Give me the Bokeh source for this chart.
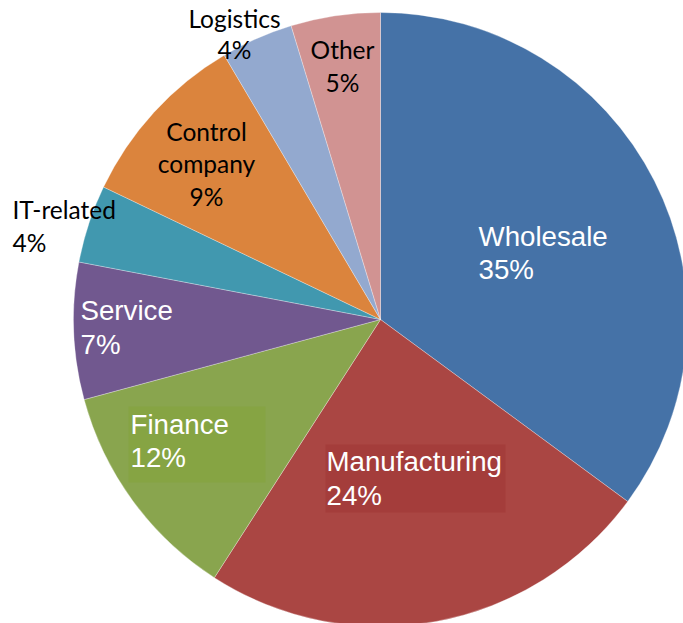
from bokeh.plotting import figure
from bokeh.models import Range1d
from bokeh.embed import file_html
from bokeh.resources import INLINE
from bokeh.core.properties import value

# ---- data ----
categories = ["Wholesale", "Manufacturing", "Finance", "Service",
              "IT-related", "Control\ncompany", "Logistics", "Other"]
shares = [35.1, 24.0, 11.7, 7.2, 4.1, 9.4, 3.8, 4.7]
colors = ["#4572A7", "#AA4643", "#89A54E", "#71588F",
          "#4198AF", "#DB843D", "#93A9CF", "#D19392"]

# ---- layout / style (positions in pixel-like data units) ----
W, H = 683, 623
cx, cy, R = 380, 304, 307

# label layout: x, first line y, line step, align, colour, font, size
label_style = {
    "Wholesale":         (478, 387, 32.5, "left",   "white", "Liberation Sans", "27.7px"),
    "Manufacturing":     (326, 162.5, 34, "left",   "white", "Liberation Sans", "27.7px"),
    "Finance":           (130, 199.5, 33, "left",   "white", "Liberation Sans", "27.7px"),
    "Service":           (80, 313.5, 34, "left",    "white", "Liberation Sans", "27.7px"),
    "IT-related":        (12, 414.5, 33.3, "left",  "black", "Lato", "24.5px"),
    "Control\ncompany":  (206, 492, 32.3, "center", "black", "Lato", "24.5px"),
    "Logistics":         (234, 605.5, 31.3, "center", "black", "Lato", "24.5px"),
    "Other":             (342, 574, 33.4, "center", "black", "Lato", "24.5px"),
}
# label background boxes (left, right, bottom, top, colour)
label_boxes = {
    "Manufacturing": (325, 505, 111, 179, "#A43D3B"),
    "Finance": (128, 265, 141, 217, "#86A443"),
}

p = figure(width=W, height=H, output_backend="svg", toolbar_location=None,
           x_range=Range1d(0, W), y_range=Range1d(0, H),
           min_border=0, outline_line_color=None, background_fill_color="white",
           border_fill_color="white")
p.axis.visible = False
p.grid.visible = False

# wedges, clockwise from 12 o'clock
starts, ends = [], []
acc = 0.0
for s in shares:
    a0 = 90 - acc * 3.6
    a1 = 90 - (acc + s) * 3.6
    starts.append(a0)
    ends.append(a1)
    acc += s

p.wedge(x=[cx] * len(shares), y=[cy] * len(shares), radius=R,
        start_angle=starts, end_angle=ends, start_angle_units="deg",
        end_angle_units="deg", direction="clock",
        fill_color=colors, line_color="white", line_width=0.6, line_alpha=0.5)

for name, (l, r, b, t, c) in label_boxes.items():
    p.quad(left=[l], right=[r], bottom=[b], top=[t], fill_color=c, line_color=None)

for name, s in zip(categories, shares):
    x, y0, step, align, col, font, size = label_style[name]
    lines = name.split("\n") + [f"{round(s)}%"]
    xs = [x] * len(lines)
    ys = [y0 - i * step for i in range(len(lines))]
    p.text(x=xs, y=ys, text=lines, text_align=align, text_baseline="alphabetic",
           text_color=col, text_font=value(font), text_font_size=size)

open("out.html", "w").write(file_html(p, INLINE))
